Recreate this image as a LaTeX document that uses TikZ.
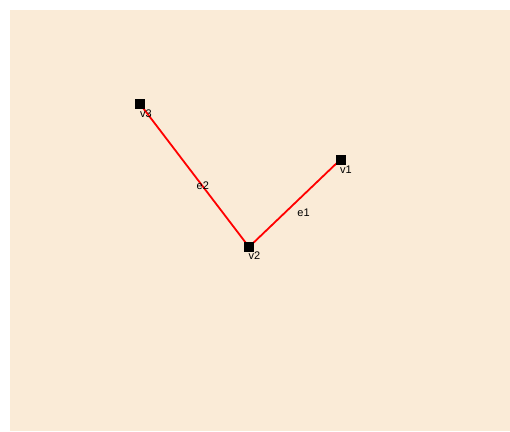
\documentclass[tikz,border=0pt]{standalone}
\usepackage{fontspec}
\setmainfont{Liberation Sans}
\begin{document}
\begin{tikzpicture}[x=1pt,y=-1pt,
  vert/.style={fill=black,minimum size=10pt,inner sep=0pt,outer sep=0pt},
  lbl/.style={anchor=base west,inner sep=0pt,font=\fontsize{11}{13}\selectfont},
  edge/.style={red,line width=1.8pt}]
\useasboundingbox (0,0) rectangle (510,431);
\fill[white] (0,0) rectangle (510,431);
\fill[fill={rgb,255:red,250;green,235;blue,215}] (10,10) rectangle (510,431);
\node[vert] (v1) at (340.5,159.5) {};
\node[vert] (v2) at (249,247) {};
\node[vert] (v3) at (140,104) {};
\draw[edge] (v2.center) -- (v1.center) coordinate[pos=0.5] (m1);
\draw[edge] (v3.center) -- (v2.center) coordinate[pos=0.5] (m2);
\node[vert] at (v1) {};
\node[vert] at (v2) {};
\node[vert] at (v3) {};
\node[lbl] (l1) at ([shift={(-0.5,13.5)}]v1.center) {v1};
\node[lbl] (l2) at ([shift={(-0.5,12.5)}]v2.center) {v2};
\node[lbl] (l3) at ([shift={(0,13)}]v3.center) {v3};
\node[lbl] (le1) at ([shift={(2.5,13)}]m1) {e1};
\node[lbl] (le2) at ([shift={(2,14)}]m2) {e2};
\end{tikzpicture}
\end{document}
